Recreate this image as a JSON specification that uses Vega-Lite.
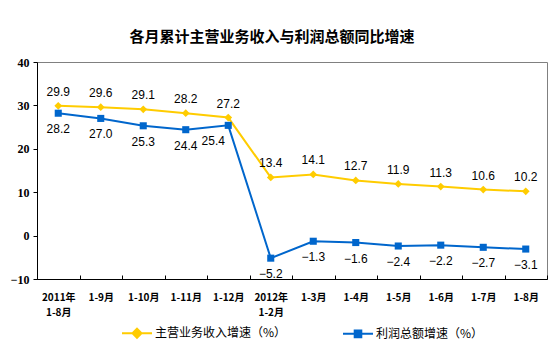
{
  "$schema": "https://vega.github.io/schema/vega-lite/v6.json",
  "width": 510,
  "height": 217,
  "autosize": "none",
  "padding": {"left": 37, "top": 62, "right": 7, "bottom": 72},
  "background": "white",
  "title": {
    "text": "各月累计主营业务收入与利润总额同比增速",
    "font": "Noto Sans CJK SC",
    "fontSize": 15,
    "fontWeight": "bold",
    "color": "#000000",
    "anchor": "middle",
    "dx": -20,
    "offset": 11
  },
  "config": {
    "view": {"stroke": "#808080", "strokeWidth": 1}
  },
  "data": {
    "values": [
      {"period": "2011年 1-8月", "series": "主营业务收入增速（%）", "value": 29.9},
      {"period": "1-9月", "series": "主营业务收入增速（%）", "value": 29.6},
      {"period": "1-10月", "series": "主营业务收入增速（%）", "value": 29.1},
      {"period": "1-11月", "series": "主营业务收入增速（%）", "value": 28.2},
      {"period": "1-12月", "series": "主营业务收入增速（%）", "value": 27.2},
      {"period": "2012年 1-2月", "series": "主营业务收入增速（%）", "value": 13.4},
      {"period": "1-3月", "series": "主营业务收入增速（%）", "value": 14.1},
      {"period": "1-4月", "series": "主营业务收入增速（%）", "value": 12.7},
      {"period": "1-5月", "series": "主营业务收入增速（%）", "value": 11.9},
      {"period": "1-6月", "series": "主营业务收入增速（%）", "value": 11.3},
      {"period": "1-7月", "series": "主营业务收入增速（%）", "value": 10.6},
      {"period": "1-8月", "series": "主营业务收入增速（%）", "value": 10.2},
      {"period": "2011年 1-8月", "series": "利润总额增速（%）", "value": 28.2},
      {"period": "1-9月", "series": "利润总额增速（%）", "value": 27.0},
      {"period": "1-10月", "series": "利润总额增速（%）", "value": 25.3},
      {"period": "1-11月", "series": "利润总额增速（%）", "value": 24.4},
      {"period": "1-12月", "series": "利润总额增速（%）", "value": 25.4},
      {"period": "2012年 1-2月", "series": "利润总额增速（%）", "value": -5.2},
      {"period": "1-3月", "series": "利润总额增速（%）", "value": -1.3},
      {"period": "1-4月", "series": "利润总额增速（%）", "value": -1.6},
      {"period": "1-5月", "series": "利润总额增速（%）", "value": -2.4},
      {"period": "1-6月", "series": "利润总额增速（%）", "value": -2.2},
      {"period": "1-7月", "series": "利润总额增速（%）", "value": -2.7},
      {"period": "1-8月", "series": "利润总额增速（%）", "value": -3.1}
    ]
  },
  "encoding": {
    "x": {
      "field": "period",
      "type": "nominal",
      "sort": ["2011年 1-8月", "1-9月", "1-10月", "1-11月", "1-12月", "2012年 1-2月", "1-3月", "1-4月", "1-5月", "1-6月", "1-7月", "1-8月"],
      "scale": {"type": "band", "paddingInner": 0, "paddingOuter": 0},
      "axis": {
        "title": null,
        "tickBand": "extent",
        "labelAngle": 0,
        "labelExpr": "isValid(datum.value) ? split(datum.value, ' ') : ''",
        "labelFont": "Noto Sans CJK SC",
        "labelFontSize": 10,
        "labelFontWeight": "bold",
        "labelColor": "#000000",
        "labelLineHeight": 15,
        "labelPadding": 17,
        "tickSize": -4,
        "tickColor": "#000000",
        "domainColor": "#000000",
        "grid": false
      }
    },
    "y": {
      "field": "value",
      "type": "quantitative",
      "scale": {"domain": [-10, 40], "nice": false, "zero": false},
      "axis": {
        "title": null,
        "values": [-10, 0, 10, 20, 30, 40],
        "grid": false,
        "tickSize": 4,
        "tickColor": "#000000",
        "domainColor": "#000000",
        "labelFont": "Liberation Serif",
        "labelFontWeight": "bold",
        "labelFontSize": 12,
        "labelColor": "#000000",
        "labelPadding": 4
      }
    }
  },
  "layer": [
    {
      "mark": {"type": "line", "strokeWidth": 2},
      "encoding": {
        "color": {
          "field": "series",
          "type": "nominal",
          "scale": {"domain": ["主营业务收入增速（%）", "利润总额增速（%）"], "range": ["#FFCC00", "#0066CC"]},
          "legend": {
            "orient": "none",
            "legendX": 84,
            "legendY": 255,
            "direction": "horizontal",
            "title": null,
            "padding": 0,
            "symbolSize": 900,
            "symbolStrokeWidth": 2,
            "labelFont": "Noto Sans CJK SC",
            "labelFontSize": 12,
            "labelColor": "#000000",
            "labelOffset": 2,
            "columnPadding": 52,
            "encode": {
              "symbols": {
                "update": {
                  "shape": {"signal": "datum.value === '主营业务收入增速（%）' ? 'M-1,0H1M0,-0.3L0.3,0L0,0.3L-0.3,0Z' : 'M-1,0H1M-0.22,-0.22H0.22V0.22H-0.22Z'"},
                  "fill": {"signal": "datum.value === '主营业务收入增速（%）' ? '#FFCC00' : '#0066CC'"},
                  "stroke": {"signal": "datum.value === '主营业务收入增速（%）' ? '#FFCC00' : '#0066CC'"},
                  "strokeWidth": {"value": 2},
                  "opacity": {"value": 1},
                  "fillOpacity": {"value": 1}
                }
              }
            }
          }
        }
      }
    },
    {
      "transform": [{"filter": "datum.series === '主营业务收入增速（%）'"}],
      "mark": {"type": "point", "shape": "diamond", "filled": true, "opacity": 1, "size": 60, "color": "#FFCC00"}
    },
    {
      "transform": [{"filter": "datum.series === '利润总额增速（%）'"}],
      "mark": {"type": "point", "shape": "square", "filled": true, "opacity": 1, "size": 50, "color": "#0066CC"}
    },
    {
      "transform": [{"filter": "datum.series === '主营业务收入增速（%）'"}],
      "mark": {"type": "text", "baseline": "alphabetic", "dy": -10, "font": "Liberation Sans", "fontSize": 12, "color": "#000000"},
      "encoding": {"text": {"field": "value", "type": "quantitative", "format": ".1f"}}
    },
    {
      "transform": [{"filter": "datum.series === '利润总额增速（%）' && datum.period !== '1-12月'"}],
      "mark": {"type": "text", "baseline": "alphabetic", "dy": 20, "font": "Liberation Sans", "fontSize": 12, "color": "#000000"},
      "encoding": {"text": {"field": "value", "type": "quantitative", "format": ".1f"}}
    },
    {
      "transform": [{"filter": "datum.series === '利润总额增速（%）' && datum.period === '1-12月'"}],
      "mark": {"type": "text", "baseline": "alphabetic", "dx": -15, "dy": 20, "font": "Liberation Sans", "fontSize": 12, "color": "#000000"},
      "encoding": {"text": {"field": "value", "type": "quantitative", "format": ".1f"}}
    }
  ]
}
